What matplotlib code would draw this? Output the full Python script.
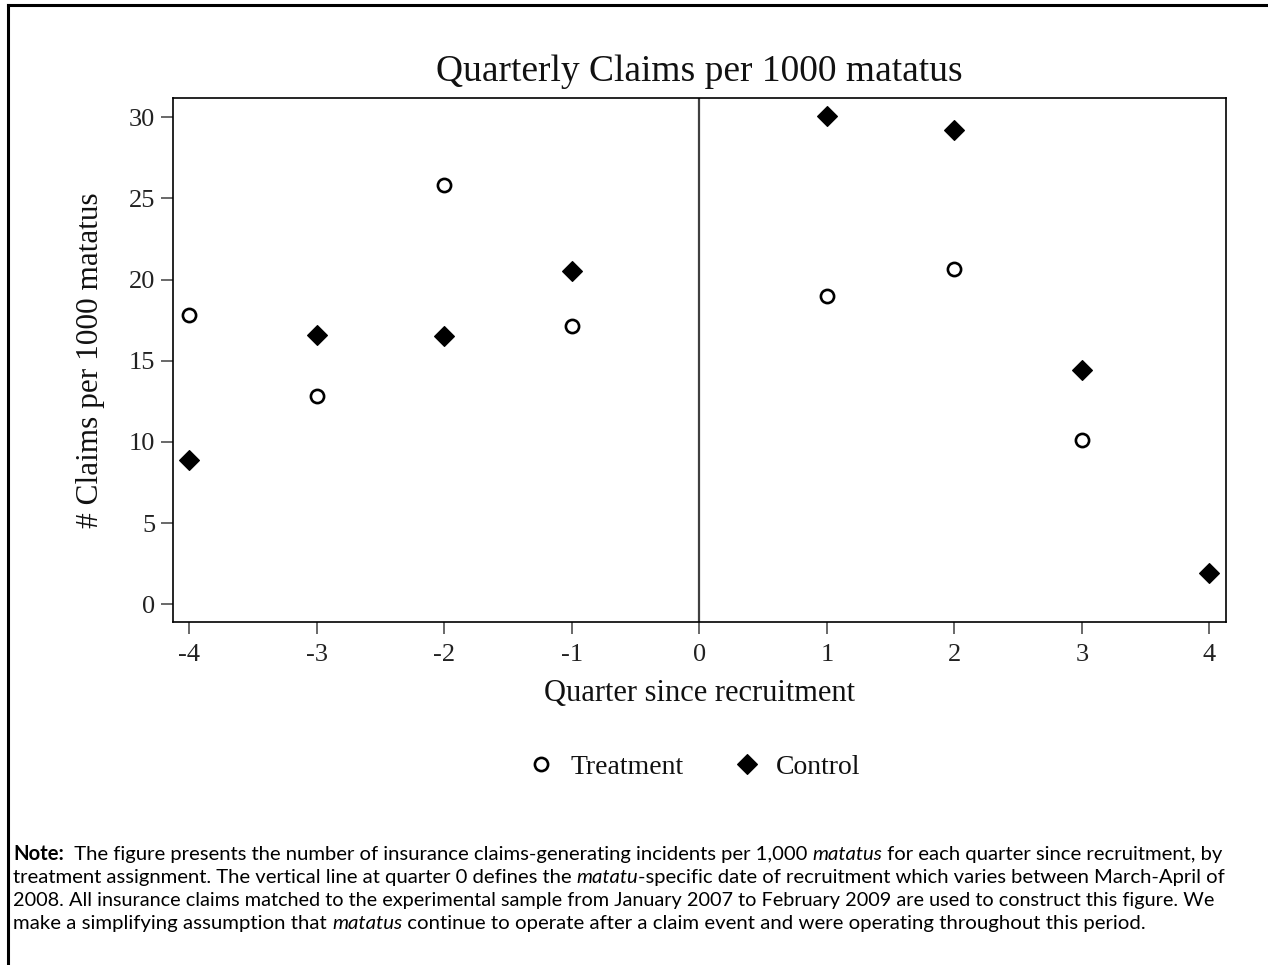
import matplotlib
matplotlib.use("Agg")
import matplotlib.pyplot as plt
from matplotlib.lines import Line2D

# ---- data ----
quarters_treat = [-4, -3, -2, -1, 1, 2, 3]
treatment = [17.8, 12.8, 25.8, 17.15, 19.0, 20.65, 10.1]
quarters_ctrl = [-4, -3, -2, -1, 1, 2, 3, 4]
control = [8.9, 16.6, 16.55, 20.5, 30.1, 29.2, 14.45, 1.95]
xticks = [-4, -3, -2, -1, 0, 1, 2, 3, 4]
yticks = [0, 5, 10, 15, 20, 25, 30]
title = "Quarterly Claims per 1000 matatus"
xlabel = "Quarter since recruitment"
ylabel = "# Claims per 1000 matatus"
note_lines = [
    [("Note:", "bold"), ("  The figure presents the number of insurance claims-generating incidents per 1,000 ", "normal"),
     ("matatus", "italic"), (" for each quarter since recruitment, by", "normal")],
    [("treatment assignment. The vertical line at quarter 0 defines the ", "normal"), ("matatu", "italic"),
     ("-specific date of recruitment which varies between March-April of", "normal")],
    [("2008. All insurance claims matched to the experimental sample from January 2007 to February 2009 are used to construct this figure. We", "normal")],
    [("make a simplifying assumption that ", "normal"), ("matatus", "italic"),
     (" continue to operate after a claim event and were operating throughout this period.", "normal")],
]
note_line_ends = [1222, 1222, 1212, 1142]

W, H = 1268, 965
fig = plt.figure(figsize=(W / 100, H / 100), dpi=100)
serif = "Liberation Serif"

ax = fig.add_axes([172.7 / W, 1 - 622 / H, (1226 - 172.7) / W, (622 - 97.7) / H])
ax.set_xlim(-4.13, 4.13)
ax.set_ylim(-1.09, 31.2)
ax.axvline(0, color="#404040", lw=1.6, zorder=1)

ax.plot(quarters_treat, treatment, linestyle="none", marker="o", markersize=9.5,
        markerfacecolor="white", markeredgecolor="black", markeredgewidth=1.9,
        label="Treatment", zorder=3)
ax.plot(quarters_ctrl, control, linestyle="none", marker="D", markersize=10,
        markerfacecolor="black", markeredgecolor="black", markeredgewidth=0.8,
        label="Control", zorder=3)

ax.set_xticks(xticks)
ax.set_yticks(yticks)
ax.set_xticklabels([str(v) for v in xticks], fontfamily=serif, fontsize=19)
ax.set_yticklabels([str(v) for v in yticks], fontfamily=serif, fontsize=19)
ax.tick_params(axis="both", direction="out", length=8.5, width=1.1, color="#404040",
               labelcolor="#222222", pad=4)
ax.tick_params(axis="x", pad=7)
for sp in ax.spines.values():
    sp.set_linewidth(1.2)
    sp.set_color("black")

ax.set_title(title, fontfamily=serif, fontsize=27, pad=12, color="#111111")
ax.set_xlabel(xlabel, fontfamily=serif, fontsize=22, labelpad=10, color="#111111")
ax.set_ylabel(ylabel, fontfamily=serif, fontsize=22.5, labelpad=17, color="#111111")

leg = fig.legend(loc="center", bbox_to_anchor=(694 / W, 1 - 767 / H), ncol=2, frameon=False,
                 prop={"family": serif, "size": 20}, handletextpad=0.55, columnspacing=1.8,
                 handlelength=1.0, markerscale=1.0)
for t in leg.get_texts():
    t.set_color("#111111")

# outer border (top and left)
fig.add_artist(Line2D([8 / W, 1.0], [1 - 5 / H, 1 - 5 / H], color="black", lw=2.2, transform=fig.transFigure))
fig.add_artist(Line2D([8 / W, 8 / W], [1 - 5 / H, 0], color="black", lw=2.2, transform=fig.transFigure))

# note text
renderer = fig.canvas.get_renderer()
note_font = "Lato"
base_size = 12.0

def style_kw(style):
    kw = {}
    if style == "bold":
        kw["fontweight"] = "bold"
    if style == "italic":
        kw["fontstyle"] = "italic"
    return kw

def line_width(parts, size):
    total = 0
    for txt, style in parts:
        t = fig.text(0, 0, txt, fontfamily=note_font, fontsize=size, **style_kw(style))
        total += t.get_window_extent(renderer).width
        t.remove()
    return total

baselines = [860, 883, 906, 929]
for parts, yb, xend in zip(note_lines, baselines, note_line_ends):
    size = base_size * (xend - 13) / line_width(parts, base_size)
    x = 13
    for txt, style in parts:
        t = fig.text(x / W, 1 - yb / H, txt, fontfamily=note_font, fontsize=size, color="black",
                     va="baseline", ha="left", **style_kw(style))
        x += t.get_window_extent(renderer).width

fig.savefig("out.png", dpi=100)
